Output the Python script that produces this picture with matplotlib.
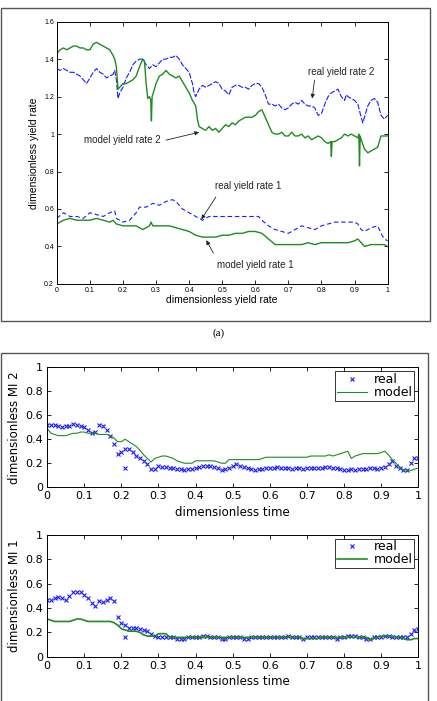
import matplotlib
matplotlib.use("Agg")
import matplotlib.pyplot as plt
from matplotlib.patches import Rectangle
from matplotlib.ticker import FuncFormatter

# ---- panel (a): yield rates ----
model2_x = [0.00, 0.01, 0.02, 0.03, 0.04, 0.05, 0.06, 0.07, 0.08, 0.09, 0.10, 0.11, 0.12, 0.13, 0.14,
            0.15, 0.16, 0.17, 0.175, 0.18, 0.185, 0.19, 0.20, 0.21, 0.22, 0.23, 0.24, 0.25, 0.26, 0.265,
            0.27, 0.275, 0.28, 0.284, 0.286, 0.288, 0.29, 0.30, 0.31, 0.32, 0.33, 0.34, 0.35, 0.36, 0.37,
            0.38, 0.39, 0.40, 0.41, 0.42, 0.425, 0.43, 0.44, 0.45, 0.46, 0.47, 0.48, 0.49, 0.50, 0.51,
            0.52, 0.53, 0.54, 0.55, 0.56, 0.57, 0.58, 0.59, 0.60, 0.61, 0.62, 0.63, 0.64, 0.65, 0.66,
            0.67, 0.68, 0.69, 0.70, 0.71, 0.72, 0.73, 0.74, 0.75, 0.76, 0.77, 0.78, 0.79, 0.80, 0.81,
            0.82, 0.828, 0.83, 0.832, 0.84, 0.85, 0.86, 0.87, 0.88, 0.89, 0.90, 0.91, 0.913, 0.915, 0.917,
            0.92, 0.93, 0.94, 0.95, 0.96, 0.97, 0.98, 0.99, 1.00]
model2_y = [1.43, 1.45, 1.46, 1.45, 1.46, 1.47, 1.47, 1.46, 1.46, 1.45, 1.45, 1.48, 1.49, 1.48, 1.47,
            1.46, 1.45, 1.42, 1.40, 1.36, 1.24, 1.25, 1.27, 1.27, 1.28, 1.29, 1.31, 1.36, 1.40, 1.39,
            1.27, 1.19, 1.20, 1.18, 1.07, 1.20, 1.21, 1.27, 1.31, 1.32, 1.34, 1.32, 1.31, 1.30, 1.31,
            1.28, 1.25, 1.22, 1.18, 1.15, 1.08, 1.04, 1.03, 1.02, 1.04, 1.02, 1.03, 1.01, 1.03, 1.05,
            1.04, 1.06, 1.05, 1.07, 1.08, 1.09, 1.09, 1.09, 1.10, 1.12, 1.13, 1.09, 1.05, 1.01, 1.00,
            1.00, 1.01, 0.99, 0.99, 1.01, 0.99, 0.99, 1.00, 0.98, 0.99, 0.97, 0.98, 0.99, 0.98, 0.96,
            0.95, 0.96, 0.88, 0.96, 0.96, 0.97, 0.98, 1.00, 0.99, 1.00, 0.99, 0.98, 1.00, 0.83, 0.99,
            0.97, 0.92, 0.90, 0.91, 0.92, 0.93, 0.99, 0.99, 0.99]

real2_x = [0.00, 0.01, 0.02, 0.03, 0.04, 0.05, 0.06, 0.07, 0.08, 0.09, 0.10, 0.11, 0.12, 0.13, 0.14,
           0.15, 0.16, 0.17, 0.175, 0.18, 0.185, 0.19, 0.20, 0.21, 0.22, 0.23, 0.24, 0.25, 0.26, 0.27,
           0.28, 0.29, 0.30, 0.31, 0.32, 0.33, 0.34, 0.35, 0.36, 0.37, 0.38, 0.39, 0.40, 0.41, 0.415,
           0.42, 0.43, 0.44, 0.45, 0.46, 0.47, 0.48, 0.49, 0.50, 0.51, 0.52, 0.53, 0.54, 0.55, 0.56,
           0.57, 0.58, 0.59, 0.60, 0.61, 0.62, 0.63, 0.64, 0.65, 0.66, 0.67, 0.68, 0.69, 0.70, 0.71,
           0.72, 0.73, 0.74, 0.75, 0.76, 0.77, 0.78, 0.79, 0.80, 0.81, 0.82, 0.83, 0.84, 0.85, 0.86,
           0.87, 0.875, 0.88, 0.89, 0.90, 0.91, 0.92, 0.925, 0.93, 0.94, 0.95, 0.96, 0.97, 0.98, 0.99,
           1.00]
real2_y = [1.35, 1.34, 1.35, 1.34, 1.33, 1.33, 1.32, 1.31, 1.29, 1.27, 1.30, 1.33, 1.35, 1.33, 1.32,
           1.30, 1.31, 1.32, 1.34, 1.29, 1.19, 1.22, 1.25, 1.30, 1.33, 1.37, 1.39, 1.40, 1.40, 1.37,
           1.35, 1.37, 1.36, 1.38, 1.40, 1.40, 1.41, 1.41, 1.42, 1.40, 1.37, 1.35, 1.33, 1.27, 1.22,
           1.20, 1.24, 1.26, 1.25, 1.26, 1.27, 1.28, 1.27, 1.24, 1.23, 1.21, 1.25, 1.26, 1.26, 1.25,
           1.25, 1.24, 1.26, 1.27, 1.27, 1.25, 1.21, 1.16, 1.16, 1.15, 1.16, 1.14, 1.13, 1.14, 1.16,
           1.17, 1.16, 1.18, 1.16, 1.15, 1.15, 1.14, 1.10, 1.11, 1.16, 1.20, 1.22, 1.23, 1.24, 1.20,
           1.18, 1.21, 1.20, 1.19, 1.18, 1.16, 1.09, 1.06, 1.09, 1.15, 1.18, 1.19, 1.17, 1.10, 1.08,
           1.10]

real1_x = [0.00, 0.02, 0.04, 0.06, 0.08, 0.10, 0.12, 0.14, 0.16, 0.175, 0.18, 0.20, 0.22, 0.24, 0.25,
           0.27, 0.29, 0.31, 0.33, 0.35, 0.36, 0.37, 0.38, 0.40, 0.42, 0.44, 0.46, 0.50, 0.55, 0.61,
           0.62, 0.64, 0.66, 0.68, 0.70, 0.72, 0.74, 0.76, 0.78, 0.80, 0.82, 0.84, 0.86, 0.88, 0.90,
           0.91, 0.92, 0.93, 0.95, 0.97, 0.98, 0.99, 1.00]
real1_y = [0.55, 0.58, 0.56, 0.56, 0.55, 0.58, 0.57, 0.56, 0.58, 0.59, 0.55, 0.53, 0.54, 0.58, 0.61,
           0.61, 0.63, 0.62, 0.64, 0.65, 0.64, 0.62, 0.60, 0.58, 0.56, 0.54, 0.56, 0.56, 0.56, 0.56,
           0.54, 0.51, 0.49, 0.48, 0.47, 0.49, 0.51, 0.50, 0.49, 0.51, 0.52, 0.53, 0.53, 0.53, 0.53,
           0.52, 0.49, 0.48, 0.50, 0.51, 0.47, 0.44, 0.43]

model1_x = [0.00, 0.02, 0.04, 0.06, 0.08, 0.10, 0.12, 0.14, 0.16, 0.17, 0.18, 0.20, 0.22, 0.24, 0.26,
            0.28, 0.285, 0.29, 0.30, 0.32, 0.34, 0.36, 0.38, 0.40, 0.42, 0.44, 0.46, 0.48, 0.50, 0.52,
            0.54, 0.56, 0.58, 0.60, 0.62, 0.64, 0.66, 0.68, 0.70, 0.72, 0.74, 0.76, 0.78, 0.80, 0.82,
            0.84, 0.86, 0.88, 0.90, 0.91, 0.92, 0.93, 0.95, 0.97, 0.99, 1.00]
model1_y = [0.52, 0.54, 0.55, 0.54, 0.54, 0.54, 0.55, 0.54, 0.53, 0.54, 0.52, 0.51, 0.51, 0.51, 0.49,
            0.51, 0.53, 0.51, 0.51, 0.51, 0.51, 0.50, 0.49, 0.48, 0.46, 0.45, 0.45, 0.45, 0.46, 0.46,
            0.47, 0.47, 0.48, 0.48, 0.47, 0.44, 0.41, 0.41, 0.41, 0.41, 0.41, 0.42, 0.41, 0.42, 0.42,
            0.42, 0.42, 0.42, 0.43, 0.44, 0.42, 0.40, 0.41, 0.41, 0.41, 0.40]

# ---- panel (b): MI ----
t = [i / 100 for i in range(101)]
mi2_real = [0.52, 0.52, 0.52, 0.51, 0.50, 0.51, 0.51, 0.53, 0.52, 0.51, 0.50, 0.48, 0.45, 0.46, 0.52,
            0.51, 0.48, 0.43, 0.36, 0.28, 0.29, 0.32, 0.32, 0.29, 0.26, 0.24, 0.22, 0.19, 0.15, 0.15,
            0.18, 0.17, 0.17, 0.16, 0.16, 0.15, 0.15, 0.14, 0.15, 0.15, 0.16, 0.17, 0.18, 0.18, 0.18,
            0.17, 0.16, 0.14, 0.15, 0.16, 0.18, 0.19, 0.18, 0.17, 0.16, 0.15, 0.14, 0.15, 0.15, 0.16,
            0.16, 0.16, 0.17, 0.16, 0.16, 0.16, 0.15, 0.16, 0.16, 0.15, 0.16, 0.16, 0.16, 0.16, 0.16,
            0.17, 0.17, 0.16, 0.16, 0.15, 0.14, 0.14, 0.15, 0.14, 0.15, 0.15, 0.15, 0.16, 0.16, 0.15,
            0.16, 0.17, 0.19, 0.22, 0.18, 0.16, 0.14, 0.14, 0.20, 0.24, 0.24]
mi2_model = [0.49, 0.45, 0.44, 0.43, 0.43, 0.43, 0.44, 0.45, 0.45, 0.46, 0.46, 0.45, 0.45, 0.45, 0.44,
             0.44, 0.44, 0.43, 0.41, 0.38, 0.38, 0.40, 0.38, 0.36, 0.34, 0.31, 0.27, 0.24, 0.21, 0.24,
             0.25, 0.26, 0.26, 0.25, 0.24, 0.22, 0.21, 0.20, 0.20, 0.20, 0.22, 0.22, 0.22, 0.22, 0.22,
             0.22, 0.21, 0.20, 0.20, 0.23, 0.23, 0.23, 0.23, 0.23, 0.23, 0.23, 0.23, 0.23, 0.24, 0.25,
             0.25, 0.25, 0.25, 0.25, 0.25, 0.25, 0.25, 0.25, 0.25, 0.25, 0.25, 0.26, 0.26, 0.26, 0.26,
             0.26, 0.27, 0.26, 0.27, 0.28, 0.29, 0.30, 0.24, 0.26, 0.27, 0.28, 0.28, 0.28, 0.28, 0.28,
             0.29, 0.30, 0.27, 0.23, 0.20, 0.17, 0.14, 0.13, 0.14, 0.15, 0.16]
mi1_real = [0.47, 0.47, 0.48, 0.49, 0.48, 0.47, 0.50, 0.53, 0.53, 0.53, 0.51, 0.48, 0.44, 0.42, 0.46,
            0.45, 0.47, 0.48, 0.46, 0.33, 0.28, 0.26, 0.24, 0.24, 0.24, 0.23, 0.22, 0.21, 0.19, 0.17,
            0.16, 0.16, 0.16, 0.16, 0.16, 0.15, 0.15, 0.15, 0.16, 0.16, 0.16, 0.16, 0.17, 0.17, 0.16,
            0.16, 0.16, 0.15, 0.15, 0.16, 0.16, 0.16, 0.16, 0.15, 0.15, 0.16, 0.16, 0.16, 0.16, 0.16,
            0.16, 0.16, 0.16, 0.16, 0.16, 0.17, 0.16, 0.16, 0.16, 0.15, 0.16, 0.16, 0.16, 0.16, 0.16,
            0.16, 0.16, 0.16, 0.15, 0.16, 0.16, 0.17, 0.17, 0.17, 0.16, 0.16, 0.15, 0.15, 0.16, 0.16,
            0.16, 0.17, 0.17, 0.16, 0.16, 0.16, 0.16, 0.16, 0.19, 0.22, 0.23]
mi1_model = [0.31, 0.30, 0.29, 0.29, 0.29, 0.29, 0.29, 0.30, 0.31, 0.31, 0.30, 0.29, 0.29, 0.29, 0.29,
             0.29, 0.29, 0.29, 0.28, 0.26, 0.23, 0.22, 0.21, 0.21, 0.21, 0.20, 0.18, 0.17, 0.17, 0.17,
             0.19, 0.19, 0.19, 0.16, 0.16, 0.16, 0.16, 0.16, 0.16, 0.16, 0.16, 0.16, 0.16, 0.16, 0.16,
             0.16, 0.16, 0.16, 0.16, 0.16, 0.16, 0.16, 0.16, 0.16, 0.16, 0.16, 0.16, 0.16, 0.16, 0.16,
             0.16, 0.16, 0.16, 0.16, 0.16, 0.16, 0.16, 0.16, 0.16, 0.15, 0.15, 0.15, 0.15, 0.15, 0.16,
             0.16, 0.16, 0.16, 0.16, 0.16, 0.16, 0.16, 0.16, 0.16, 0.16, 0.16, 0.16, 0.14, 0.15, 0.16,
             0.17, 0.17, 0.17, 0.17, 0.16, 0.16, 0.15, 0.14, 0.14, 0.15, 0.15]
outlier_t = [0.21]
outlier_mi = [0.16]

BLUE = "#1a1aff"
GREEN = "#1e8c1e"

fig = plt.figure(figsize=(4.37, 7.01), dpi=100)

# frames around the two sub-figures
fig.add_artist(Rectangle((0.003, 0.542), 0.981, 0.446, transform=fig.transFigure,
                         fill=False, edgecolor="#555555", lw=1.0))
fig.add_artist(Rectangle((0.003, -0.02), 0.976, 0.516, transform=fig.transFigure,
                         fill=False, edgecolor="#555555", lw=1.0))
fig.text(0.5, 0.525, "(a)", ha="center", va="center", fontsize=8,
         family="Liberation Serif")

sans = "Liberation Sans"
fmt = FuncFormatter(lambda v, p: f"{v:g}")

# ---- top panel ----
ax = fig.add_axes([0.130, 0.595, 0.757, 0.374])
ax.plot(real2_x, real2_y, color=BLUE, lw=0.8, dashes=(5, 1.5))
ax.plot(model2_x, model2_y, color=GREEN, lw=1.0)
ax.plot(real1_x, real1_y, color=BLUE, lw=0.8, dashes=(4, 2.5))
ax.plot(model1_x, model1_y, color=GREEN, lw=1.0)
ax.set_xlim(0, 1)
ax.set_ylim(0.2, 1.6)
ax.set_xticks([i / 10 for i in range(11)])
ax.set_yticks([0.2, 0.4, 0.6, 0.8, 1.0, 1.2, 1.4, 1.6])
ax.xaxis.set_major_formatter(fmt)
ax.yaxis.set_major_formatter(fmt)
ax.tick_params(direction="in", top=True, right=True, length=3, width=0.6,
               labelsize=5, pad=2)
for lab in ax.get_xticklabels() + ax.get_yticklabels():
    lab.set_family(sans)
for s in ax.spines.values():
    s.set_linewidth(0.7)
ax.set_xlabel("dimensionless yield rate", fontsize=7.5, family=sans, labelpad=1)
ax.set_ylabel("dimensionless yield rate", fontsize=7.5, family=sans, labelpad=4)

arrow = dict(arrowstyle="-|>", color="#222222", lw=0.6, mutation_scale=6)
ax.annotate("real yield rate 2", xy=(0.772, 1.19), xytext=(0.76, 1.33),
            fontsize=7, family=sans, color="#222222", va="center", ha="left",
            arrowprops=dict(arrow, shrinkA=0, shrinkB=0, relpos=(0.1, 0)))
ax.annotate("model yield rate 2", xy=(0.43, 1.01), xytext=(0.082, 0.966),
            fontsize=7, family=sans, color="#222222", va="center", ha="left",
            arrowprops=dict(arrow, shrinkA=2, shrinkB=0, relpos=(1, 0.4)))
ax.annotate("real yield rate 1", xy=(0.437, 0.545), xytext=(0.477, 0.724),
            fontsize=7, family=sans, color="#222222", va="center", ha="left",
            arrowprops=dict(arrow, shrinkA=3, shrinkB=0, relpos=(0.08, 0)))
ax.annotate("model yield rate 1", xy=(0.452, 0.433), xytext=(0.484, 0.303),
            fontsize=7, family=sans, color="#222222", va="center", ha="left",
            arrowprops=dict(arrow, shrinkA=3, shrinkB=0, relpos=(0.0, 1)))


# ---- bottom panels ----
def mi_panel(rect, real, model, outl_t, outl_v, ylabel, model_lw):
    a = fig.add_axes(rect)
    a.plot(t, real, linestyle="none", marker="x", color=BLUE, markersize=3.5,
           markeredgewidth=0.8, label="real")
    a.plot(outl_t, outl_v, linestyle="none", marker="x", color=BLUE,
           markersize=3.5, markeredgewidth=0.8)
    a.plot(t, model, color=GREEN, lw=model_lw, label="model")
    a.set_xlim(0, 1)
    a.set_ylim(0, 1)
    a.set_xticks([i / 10 for i in range(11)])
    a.set_yticks([0, 0.2, 0.4, 0.6, 0.8, 1])
    a.xaxis.set_major_formatter(fmt)
    a.yaxis.set_major_formatter(fmt)
    a.tick_params(direction="in", top=True, right=True, length=3, width=0.6,
                  labelsize=8, pad=3)
    for s in a.spines.values():
        s.set_linewidth(0.7)
    a.set_xlabel("dimensionless time", fontsize=8.5, labelpad=3)
    a.set_ylabel(ylabel, fontsize=8.5, labelpad=3)
    leg = a.legend(loc="upper right", fontsize=9, frameon=True, fancybox=False,
                   edgecolor="black", borderpad=0.15, handlelength=2.4,
                   handletextpad=0.5, labelspacing=0.0, borderaxespad=0.3)
    leg.get_frame().set_linewidth(0.7)
    return a


mi_panel([0.108, 0.305, 0.849, 0.171], mi2_real, mi2_model, outlier_t, outlier_mi,
         "dimensionless MI 2", 0.8)
mi_panel([0.108, 0.063, 0.849, 0.174], mi1_real, mi1_model, outlier_t, outlier_mi,
         "dimensionless MI 1", 1.2)

fig.savefig("out.png", dpi=100)
